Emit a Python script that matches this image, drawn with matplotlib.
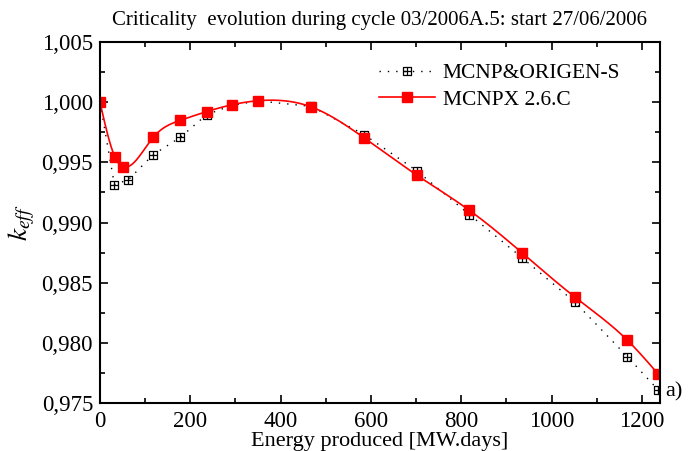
import numpy as np
import matplotlib
matplotlib.use('Agg')
import matplotlib.pyplot as plt
from matplotlib.path import Path
from matplotlib.ticker import MultipleLocator, FuncFormatter

plt.rcParams['font.family'] = ['Liberation Serif', 'DejaVu Serif']
plt.rcParams['mathtext.fontset'] = 'stix'

# MCNP&ORIGEN-S
x_mcnp = [0, 32, 63, 118, 178, 236, 293, 351, 468, 585, 701, 818, 935, 1052, 1168, 1235]
k_mcnp = [1.0000, 0.99315, 0.99356, 0.99564, 0.99708, 0.99896, 0.99975, 1.00010,
          0.99965, 0.99730, 0.99431, 0.99066, 0.98706, 0.98337, 0.97884, 0.97612]

# MCNPX 2.6.C
x_mcnpx = [0, 33, 52, 118, 178, 236, 293, 351, 468, 585, 701, 818, 935, 1052, 1168, 1235]
k_mcnpx = [1.0000, 0.99545, 0.99462, 0.99708, 0.99849, 0.99921, 0.99979, 1.00012,
           0.99960, 0.99703, 0.99395, 0.99101, 0.98747, 0.98379, 0.98021, 0.97745]


def natural_spline(x, y, n=600):
    # natural cubic spline, plain numpy
    x = np.asarray(x, float); y = np.asarray(y, float)
    m = len(x); h = np.diff(x)
    A = np.zeros((m, m)); b = np.zeros(m)
    A[0, 0] = A[-1, -1] = 1
    for i in range(1, m - 1):
        A[i, i - 1] = h[i - 1]
        A[i, i] = 2 * (h[i - 1] + h[i])
        A[i, i + 1] = h[i]
        b[i] = 3 * ((y[i + 1] - y[i]) / h[i] - (y[i] - y[i - 1]) / h[i - 1])
    c = np.linalg.solve(A, b)
    xs = np.linspace(x[0], x[-1], n)
    idx = np.clip(np.searchsorted(x, xs) - 1, 0, m - 2)
    dx = xs - x[idx]
    bb = (y[1:] - y[:-1]) / h - h * (2 * c[:-1] + c[1:]) / 3
    dd = (c[1:] - c[:-1]) / (3 * h)
    ys = y[idx] + bb[idx] * dx + c[idx] * dx ** 2 + dd[idx] * dx ** 3
    return xs, ys


# square with a cross inside
box = Path([(-1, -1), (1, -1), (1, 1), (-1, 1), (-1, -1),
            (0, -1), (0, 1), (-1, 0), (1, 0)],
           [Path.MOVETO, Path.LINETO, Path.LINETO, Path.LINETO, Path.CLOSEPOLY,
            Path.MOVETO, Path.LINETO, Path.MOVETO, Path.LINETO])

fig = plt.figure(figsize=(6.88, 4.51), dpi=100)
ax = fig.add_axes([0.1453, 0.1064, 0.8140, 0.8005])

ax.plot(x_mcnp, k_mcnp, color='black', lw=1.0, ls=(0, (1, 5)),
        marker=box, ms=5.5, mfc='none', mec='black', mew=0.9,
        label='MCNP&ORIGEN-S')

xs, ys = natural_spline(x_mcnpx, k_mcnpx)
ax.plot(xs, ys, color='red', lw=1.2)
ax.plot(x_mcnpx, k_mcnpx, ls='none', marker='s', ms=7, color='red', mec='red')
ax.plot([], [], color='red', lw=1.2, marker='s', ms=7, label='MCNPX 2.6.C')

ax.set_xlim(0, 1240)
ax.set_ylim(0.975, 1.005)
ax.xaxis.set_major_locator(MultipleLocator(200))
ax.xaxis.set_minor_locator(MultipleLocator(100))
ax.yaxis.set_major_locator(MultipleLocator(0.005))
ax.yaxis.set_minor_locator(MultipleLocator(0.0025))
ax.yaxis.set_major_formatter(FuncFormatter(lambda v, p: ('%.3f' % v).replace('.', ',')))
ax.tick_params(which='both', direction='in', top=True, right=True, width=1.2)
ax.tick_params(which='major', length=6, labelsize=16.5, pad=5)
ax.tick_params(which='minor', length=3.5)
ax.tick_params(axis='x', pad=6)
for s in ax.spines.values():
    s.set_linewidth(1.5)

ax.set_xlabel('Energy produced [MW.days]', fontsize=16, labelpad=0)
ax.set_ylabel('$k_{eff}$', fontsize=20, labelpad=3)
ax.set_title('Criticality  evolution during cycle 03/2006A.5: start 27/06/2006',
             fontsize=15, pad=12)
ax.text(1.01, 0.03, 'a)', transform=ax.transAxes, fontsize=16, va='center')

ax.legend(loc='upper right', bbox_to_anchor=(0.944, 0.965), frameon=False,
          fontsize=15.5, handlelength=2.6, borderaxespad=0, labelspacing=0.3,
          handletextpad=0.35)

fig.savefig('out.png', dpi=100)
